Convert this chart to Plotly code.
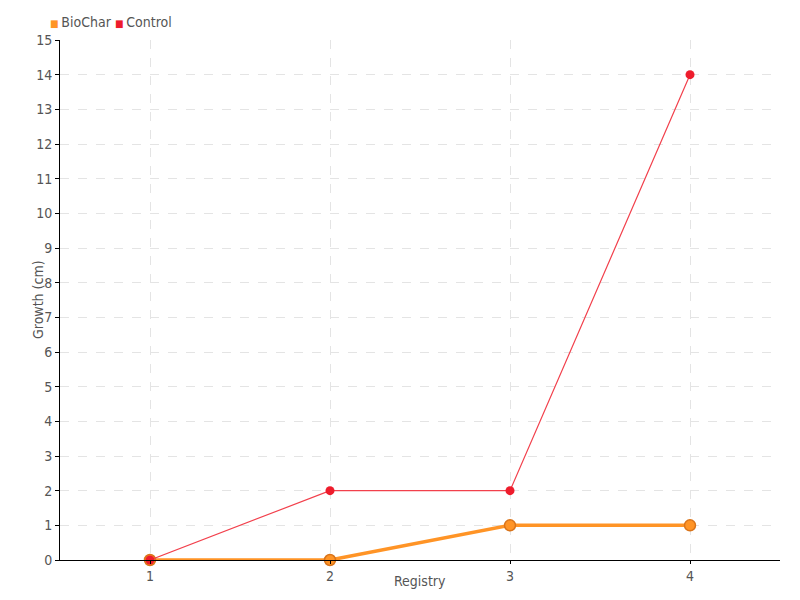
import plotly.graph_objects as go

registry = [1, 2, 3, 4]
biochar = [0, 0, 1, 1]
control = [0, 2, 2, 14]
y_ticks = list(range(0, 16))

FONT = "Liberation Sans Narrow, DejaVu Sans Condensed, sans-serif"
GREY = "#555555"
ORANGE = "#ff9426"
RED = "#ee1c2c"

# plot area in figure pixels (page adds ~8px body offset)
L, R, T, B = 52, 28, 32, 48
PW, PH = 800 - L - R, 600 - T - B

def px(xf):
    return (xf - L) / PW

def py(yf):
    return (T + PH - yf) / PH

fig = go.Figure()
fig.add_trace(go.Scatter(x=registry, y=biochar, mode="lines+markers", name="BioChar",
                         line=dict(color=ORANGE, width=3.5), cliponaxis=False,
                         marker=dict(color=ORANGE, size=11, line=dict(color="#d9741a", width=1.5)),
                         showlegend=False))
fig.add_trace(go.Scatter(x=registry, y=control, mode="lines+markers", name="Control",
                         line=dict(color="#f2404c", width=1.2), cliponaxis=False,
                         marker=dict(color=RED, size=9), showlegend=False))

fig.add_annotation(
    x=px(40), y=py(14), xref="paper", yref="paper", showarrow=False,
    xanchor="left", yanchor="middle",
    text=(f"<span style='color:{ORANGE};font-size:10px'>■ </span>BioChar "
          f"<span style='color:{RED};font-size:10px'>■ </span>Control"),
    font=dict(size=14, color=GREY),
)
fig.add_annotation(
    x=0.5, y=py(573), xref="paper", yref="paper", showarrow=False,
    xanchor="center", yanchor="middle", text="Registry",
    font=dict(size=14, color=GREY),
)
fig.add_annotation(
    x=px(30), y=0.5, xref="paper", yref="paper", showarrow=False,
    xanchor="center", yanchor="middle", text="Growth (cm)", textangle=-90,
    font=dict(size=14, color=GREY),
)

fig.update_layout(
    width=800, height=600,
    margin=dict(l=L, r=R, t=T, b=B, autoexpand=False),
    plot_bgcolor="white", paper_bgcolor="white",
    font=dict(family=FONT, color=GREY, size=14),
    showlegend=False,
)
fig.update_xaxes(range=[0.5, 4.5], tickvals=registry, ticktext=[str(v) for v in registry],
                 showline=True, linecolor="black", linewidth=1, automargin=False,
                 showgrid=True, gridcolor="#e4e4e4", griddash="dash", zeroline=False,
                 ticks="outside", ticklen=3, tickcolor="black")
fig.update_yaxes(range=[0, 15], tickvals=y_ticks, automargin=False,
                 showline=True, linecolor="black", linewidth=1,
                 showgrid=True, gridcolor="#e4e4e4", griddash="dash", zeroline=False,
                 ticks="outside", ticklen=4, tickcolor="black")

fig.write_html("out.html")
